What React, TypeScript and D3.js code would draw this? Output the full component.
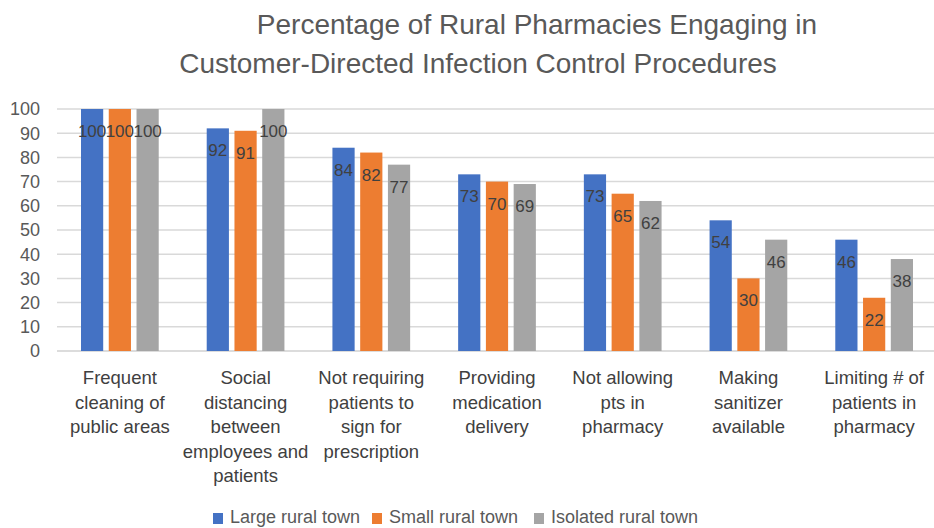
import React, { useEffect, useRef } from "react";
import * as d3 from "d3";

const categories = [
  ["Frequent", "cleaning of", "public areas"],
  ["Social", "distancing", "between", "employees and", "patients"],
  ["Not requiring", "patients to", "sign for", "prescription"],
  ["Providing", "medication", "delivery"],
  ["Not allowing", "pts in", "pharmacy"],
  ["Making", "sanitizer", "available"],
  ["Limiting # of", "patients in", "pharmacy"],
];
const seriesNames = ["Large rural town", "Small rural town", "Isolated rural town"];
const largeTown = [100, 92, 84, 73, 73, 54, 46];
const smallTown = [100, 91, 82, 70, 65, 30, 22];
const isolatedTown = [100, 100, 77, 69, 62, 46, 38];
const colors = ["#4472C4", "#ED7D31", "#A5A5A5"];
const yTicks = [0, 10, 20, 30, 40, 50, 60, 70, 80, 90, 100];
const titleLines = [
  "Percentage of Rural Pharmacies Engaging in",
  "Customer-Directed Infection Control Procedures",
];

const FONT = "'Liberation Sans', 'DejaVu Sans', sans-serif";

export default function App() {
  const ref = useRef<SVGSVGElement>(null);

  useEffect(() => {
    const svg = d3.select(ref.current);
    svg.selectAll("*").remove();
    const width = 934, height = 528;
    const left = 57, right = 937, top = 109, bottom = 351;

    svg.append("rect").attr("width", width).attr("height", height).attr("fill", "#fff");

    const x = d3.scaleBand<number>().domain(d3.range(categories.length)).range([left, right]);
    const y = d3.scaleLinear().domain([0, 100]).range([bottom, top]);
    const inner = d3.scaleBand<number>().domain([0, 1, 2]).range([24, x.bandwidth() - 24]).paddingInner(0.2);

    // grid
    svg.append("g").selectAll("line").data(yTicks).enter().append("line")
      .attr("x1", left).attr("x2", width)
      .attr("y1", d => y(d)).attr("y2", d => y(d))
      .attr("stroke", d => d === 0 ? "#d0d0d0" : "#d9d9d9").attr("stroke-width", 1.5);

    svg.append("g").selectAll("text").data(yTicks).enter().append("text")
      .attr("x", 40).attr("y", d => y(d)).attr("dy", "0.35em")
      .attr("text-anchor", "end").attr("font-family", FONT).attr("font-size", 18)
      .attr("fill", "#595959").text(d => d);

    const all = [largeTown, smallTown, isolatedTown];
    all.forEach((vals, s) => {
      const g = svg.append("g");
      g.selectAll("rect").data(vals).enter().append("rect")
        .attr("x", (_, i) => (x(i) as number) + (inner(s) as number))
        .attr("width", inner.bandwidth())
        .attr("y", d => y(d)).attr("height", d => bottom - y(d))
        .attr("fill", colors[s]);
      g.selectAll("text").data(vals).enter().append("text")
        .attr("x", (_, i) => (x(i) as number) + (inner(s) as number) + inner.bandwidth() / 2)
        .attr("y", d => y(d) + 28)
        .attr("text-anchor", "middle").attr("font-family", FONT).attr("font-size", 17)
        .attr("fill", "#404040").text(d => d);
    });

    // category labels
    categories.forEach((lines, i) => {
      const cx = (x(i) as number) + x.bandwidth() / 2;
      const t = svg.append("text")
        .attr("x", cx).attr("y", 384)
        .attr("text-anchor", "middle").attr("font-family", FONT).attr("font-size", 18.5)
        .attr("fill", "#404040");
      lines.forEach((l, k) => t.append("tspan")
        .attr("x", cx).attr("dy", k === 0 ? 0 : 24.5).text(l));
    });

    // title
    const titleX = [537, 478];
    titleLines.forEach((l, k) => {
      svg.append("text").attr("x", titleX[k]).attr("y", 34 + k * 39)
        .attr("text-anchor", "middle").attr("font-family", FONT).attr("font-size", 28)
        .attr("fill", "#595959").text(l);
    });

    // legend
    const legX = [213, 372, 534];
    seriesNames.forEach((n, s) => {
      svg.append("rect").attr("x", legX[s]).attr("y", 513).attr("width", 10).attr("height", 11)
        .attr("fill", colors[s]);
      svg.append("text").attr("x", legX[s] + 17).attr("y", 523)
        .attr("font-family", FONT).attr("font-size", 18).attr("fill", "#595959").text(n);
    });
  }, []);

  return (
    <svg ref={ref} width={934} height={528}
      style={{ position: "absolute", left: 0, top: 0, display: "block" }} />
  );
}
